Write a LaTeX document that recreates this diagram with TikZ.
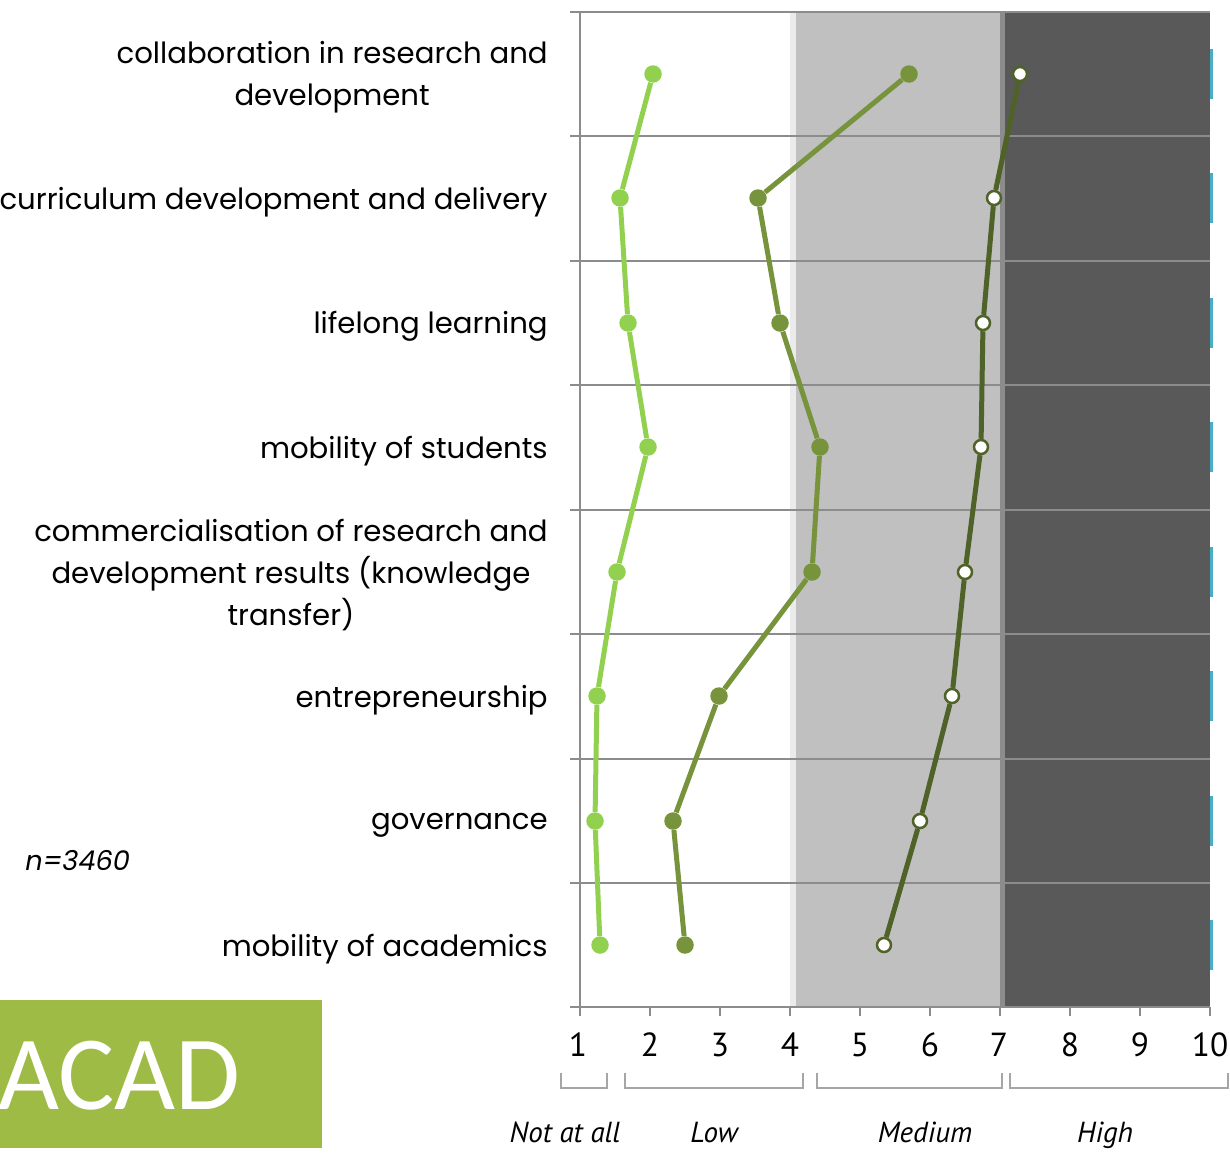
\documentclass[tikz,border=0pt]{standalone}
\usepackage{fontspec}
\setmainfont{Poppins}
\newfontfamily\tickfont{PT Sans}
\newfontfamily\boxfont{Carlito}
\definecolor{lowgreen}{RGB}{146,208,80}
\definecolor{midgreen}{RGB}{119,147,60}
\definecolor{darkgreen}{RGB}{79,98,40}
\definecolor{acadgreen}{RGB}{157,187,69}
\definecolor{tickblue}{RGB}{75,172,198}
\definecolor{bandlight}{RGB}{192,192,192}
\definecolor{banddark}{RGB}{89,89,89}
\definecolor{gridgray}{RGB}{140,140,140}
\definecolor{bracketgray}{RGB}{166,166,166}
\begin{document}
\begin{tikzpicture}[x=0.02cm, y=-0.02cm,
            rowlabel/.style={anchor=east, align=center, inner sep=0pt, font=\fontsize{16.6}{23.8}\selectfont},
            ticklabel/.style={anchor=base, inner sep=0pt, font=\tickfont\fontsize{19}{19}\selectfont},
            catlabel/.style={anchor=base, inner sep=0pt, font=\tickfont\itshape\fontsize{16.5}{16.5}\selectfont},
            grid/.style={draw=gridgray, line width=0.04cm},
            bracket/.style={draw=bracketgray, line width=0.04cm},
            lowdot/.style={circle, fill=lowgreen, minimum size=0.35cm, inner sep=0pt},
            middot/.style={circle, fill=midgreen, minimum size=0.35cm, inner sep=0pt},
            darkdot/.style={circle, draw=darkgreen, fill=white, line width=0.05cm, minimum size=0.28cm, inner sep=0pt},
            lowline/.style={draw=lowgreen, line width=0.1cm},
            midline/.style={draw=midgreen, line width=0.1cm},
            darkline/.style={draw=darkgreen, line width=0.1cm},
        ]
            \useasboundingbox (0,0) rectangle (1230,1153);

            %Bands
            \fill[white!92!black] (790,12) rectangle (796,1007);
            \fill[bandlight] (796,12) rectangle (1000,1007);
            \fill[gridgray] (1000,12) rectangle (1005,1007);
            \fill[banddark] (1005,12) rectangle (1210,1007);

            %Grid
            \draw[grid] (570,12) -- (1210,12);
            \draw[grid] (570,136) -- (1210,136);
            \draw[grid] (570,261) -- (1210,261);
            \draw[grid] (570,385) -- (1210,385);
            \draw[grid] (570,510) -- (1210,510);
            \draw[grid] (570,634) -- (1210,634);
            \draw[grid] (570,759) -- (1210,759);
            \draw[grid] (570,883) -- (1210,883);
            \draw[grid] (570,1007) -- (1210,1007);
            \draw[grid] (580,12) -- (580,1007);

            %Ticks
            \foreach \tx in {580,650,...,1210}
                \draw[grid] (\tx,1007) -- (\tx,1016);
            \foreach \ty in {74,198,323,447,572,696,821,945}
                \draw[tickblue, line width=0.06cm] (1211.5,\ty-25) -- (1211.5,\ty+25);

            %Row labels
            \node[rowlabel] (r1) at (548,77) {collaboration in research and\\development};
            \node[rowlabel] (r2) at (548,202) {curriculum development and delivery};
            \node[rowlabel] (r3) at (548,326) {lifelong learning};
            \node[rowlabel] (r4) at (548,451) {mobility of students};
            \node[rowlabel] (r5) at (548,575) {commercialisation of research and\\development results (knowledge\\transfer)};
            \node[rowlabel] (r6) at (548,700) {entrepreneurship};
            \node[rowlabel] (r7) at (548,825) {governance};
            \node[rowlabel] (r8) at (548,949) {mobility of academics};

            \node[anchor=west, inner sep=0pt, font=\itshape\fontsize{15.5}{15.5}\selectfont] (n) at (25,861) {n=3460};

            %Axis labels
            \node[ticklabel] (t1) at (578,1056) {1};
            \node[ticklabel] (t2) at (650,1056) {2};
            \node[ticklabel] (t3) at (720,1056) {3};
            \node[ticklabel] (t4) at (790,1056) {4};
            \node[ticklabel] (t5) at (860,1056) {5};
            \node[ticklabel] (t6) at (930,1056) {6};
            \node[ticklabel] (t7) at (999,1056) {7};
            \node[ticklabel] (t8) at (1070,1056) {8};
            \node[ticklabel] (t9) at (1140,1056) {9};
            \node[ticklabel] (t10) at (1210,1056) {10};

            %Brackets
            \draw[bracket] (561,1073) |- (607,1088) -- (607,1073);
            \draw[bracket] (625,1073) |- (803,1088) -- (803,1073);
            \draw[bracket] (817,1073) |- (1002,1088) -- (1002,1073);
            \draw[bracket] (1010,1073) |- (1228,1088) -- (1228,1073);

            \node[catlabel] (c1) at (565,1142) {Not at all};
            \node[catlabel] (c2) at (714,1142) {Low};
            \node[catlabel] (c3) at (925,1142) {Medium};
            \node[catlabel] (c4) at (1105,1142) {High};

            %ACAD box
            \fill[acadgreen] (0,1000) rectangle (322,1148);
            \node[anchor=west, inner sep=0pt, text=white, font=\boxfont\fontsize{60}{60}\selectfont] (acad) at (-2,1076) {ACAD};

            %Points
            \node[lowdot] (l1) at (653,74) {};
            \node[lowdot] (l2) at (620,198) {};
            \node[lowdot] (l3) at (628,323) {};
            \node[lowdot] (l4) at (648,447) {};
            \node[lowdot] (l5) at (617,572) {};
            \node[lowdot] (l6) at (597,696) {};
            \node[lowdot] (l7) at (595,821) {};
            \node[lowdot] (l8) at (600,945) {};

            \node[middot] (m1) at (909,74) {};
            \node[middot] (m2) at (758,198) {};
            \node[middot] (m3) at (780,323) {};
            \node[middot] (m4) at (820,447) {};
            \node[middot] (m5) at (812,572) {};
            \node[middot] (m6) at (719,696) {};
            \node[middot] (m7) at (673,821) {};
            \node[middot] (m8) at (685,945) {};

            \node[darkdot] (d1) at (1020,74) {};
            \node[darkdot] (d2) at (994,198) {};
            \node[darkdot] (d3) at (983,323) {};
            \node[darkdot] (d4) at (981,447) {};
            \node[darkdot] (d5) at (965,572) {};
            \node[darkdot] (d6) at (952,696) {};
            \node[darkdot] (d7) at (920,821) {};
            \node[darkdot] (d8) at (884,945) {};

            %Lines
            \draw[lowline] (l1) -- (l2) -- (l3) -- (l4) -- (l5) -- (l6) -- (l7) -- (l8);
            \draw[midline] (m1) -- (m2) -- (m3) -- (m4) -- (m5) -- (m6) -- (m7) -- (m8);
            \draw[darkline] (d1) -- (d2) -- (d3) -- (d4) -- (d5) -- (d6) -- (d7) -- (d8);
        \end{tikzpicture}
\end{document}
